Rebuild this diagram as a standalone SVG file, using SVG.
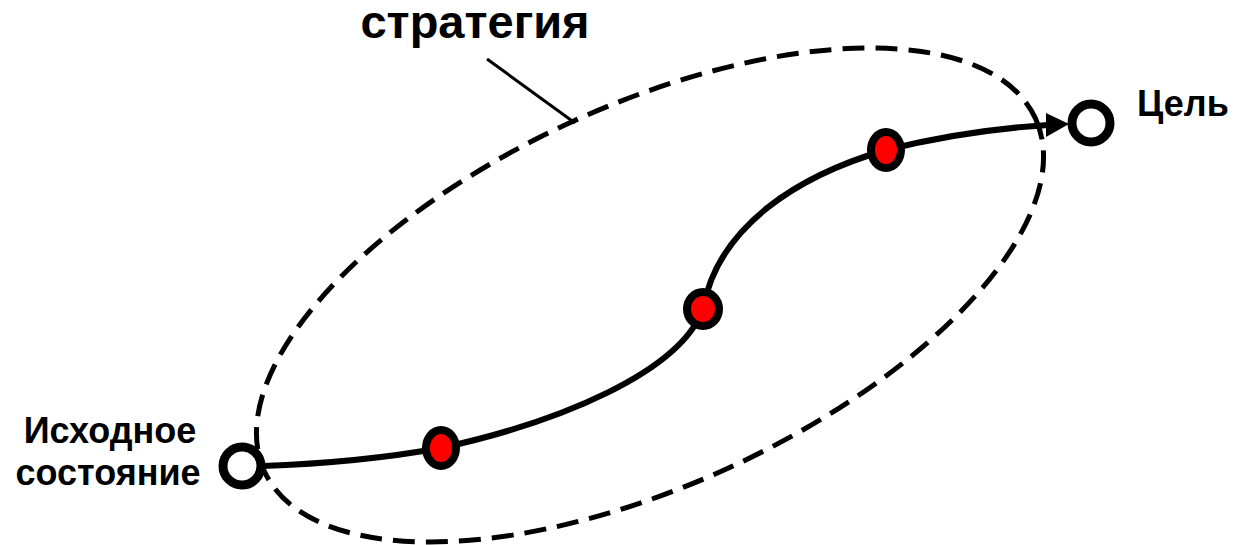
<svg xmlns="http://www.w3.org/2000/svg" width="1247" height="545" viewBox="0 0 1247 545">
<style>
.lbl{font-family:"Liberation Sans",Arial,sans-serif;font-weight:bold;fill:#000}
.stage{fill:#ff0000;stroke:#000;stroke-width:8}
.end{fill:#fff;stroke:#000;stroke-width:9}
</style>
<rect width="1247" height="545" fill="#fff"/>
<g id="strategy-ellipse">
<ellipse cx="650" cy="295" rx="424" ry="190" transform="rotate(-24.6 650 295)" fill="none" stroke="#000" stroke-width="5" stroke-dasharray="22 11"/>
</g>
<g id="connectors">
<path d="M262,466 C320,464 380,459 441,448 C560,422 680,372 703,309 C718,225 800,175 886,150 C950,134 1000,128 1048,125" fill="none" stroke="#000" stroke-width="6"/>
<polygon points="1046,113 1069,124 1046,137" fill="#000"/>
<line x1="487" y1="59" x2="575" y2="123" stroke="#000" stroke-width="3"/>
</g>
<g id="start">
<circle cx="242" cy="466" r="19" class="end"/>
</g>
<g id="goal">
<circle cx="1091" cy="123" r="19" class="end"/>
</g>
<g id="stage1"><ellipse cx="441" cy="448" rx="15" ry="18" class="stage"/></g>
<g id="stage2"><ellipse cx="703" cy="309" rx="16" ry="17" class="stage"/></g>
<g id="stage3"><ellipse cx="886" cy="150" rx="15" ry="18" class="stage"/></g>
<g id="labels">
<text class="lbl" x="475" y="38" font-size="47" text-anchor="middle">стратегия</text>
<text class="lbl" x="1183" y="116" font-size="36" text-anchor="middle">Цель</text>
<text class="lbl" x="110" y="443" font-size="36" text-anchor="middle">Исходное</text>
<text class="lbl" x="108" y="485" font-size="36" text-anchor="middle">состояние</text>
</g>
</svg>
